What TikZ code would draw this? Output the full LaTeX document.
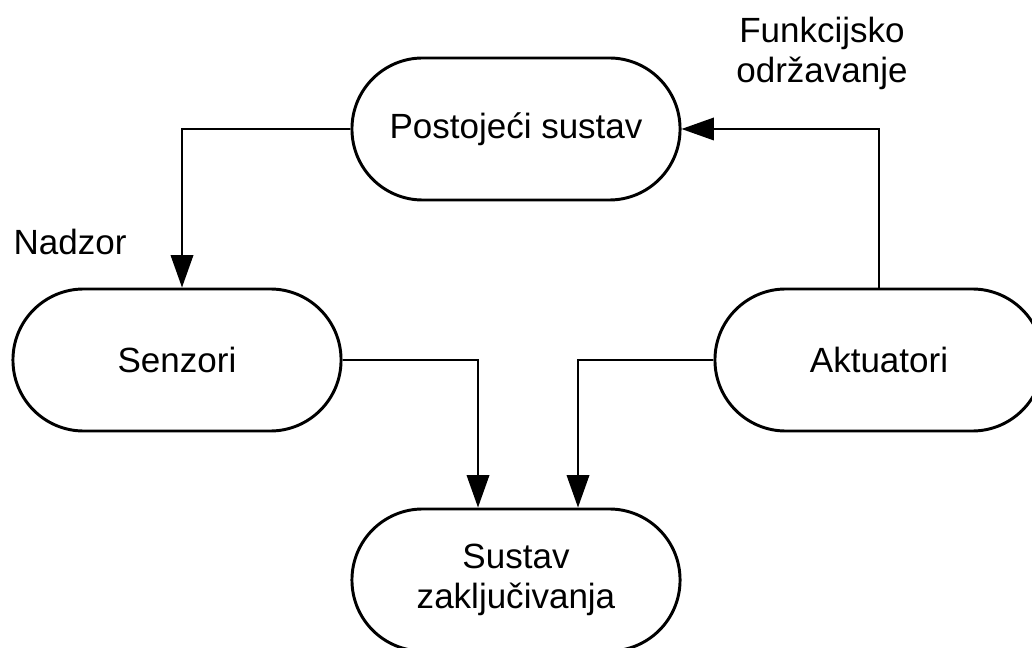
\documentclass[tikz,border=0pt]{standalone}
\usepackage{fontspec}
\setmainfont{Liberation Sans}
\usetikzlibrary{calc, arrows.meta}

\tikzset{
	blok/.style = {draw, line width = 2.1pt, rectangle, rounded corners = 1.77cm, minimum width = 8.2cm, minimum height = 3.55cm, align = center, inner sep = 0pt},
	veza/.style = {line width = 1.3pt, -{Triangle[length = 23pt, width = 16pt]}},
	oznaka/.style = {inner sep = 0pt, align = center}
}

\begin{document}
\begin{tikzpicture}[x = 0.025cm, y = -0.025cm, font = \fontsize{24.9}{28.4}\selectfont]
					\useasboundingbox (0,0) rectangle (1032,648);

					\begin{scope}
						\node [blok] (postojeci) at (516,129) {Postoje\'ci sustav};
						\node [blok] (senzori) at (177,360) {Senzori};
						\node [blok] (aktuatori) at (879,360) {Aktuatori};
						\node [blok] (zakljucivanje) at (516,580) {Sustav\\zaklju\v{c}ivanja};
					\end{scope}

					\begin{scope}[veza]
						\draw (postojeci.west) -| ($(senzori.north)+(5,0)$);
						\draw (aktuatori.north) |- (postojeci.east);
						\draw (senzori.east) -| ($(zakljucivanje.north)+(-38,0)$);
						\draw (aktuatori.west) -| ($(zakljucivanje.north)+(62,0)$);
					\end{scope}

					\begin{scope}
						\node [oznaka, anchor = base] (nadzor) at (70,255) {Nadzor};
						\node [oznaka, anchor = north] (odrzavanje) at (822,17) {Funkcijsko\\odr\v{z}avanje};
					\end{scope}
				\end{tikzpicture}
\end{document}
